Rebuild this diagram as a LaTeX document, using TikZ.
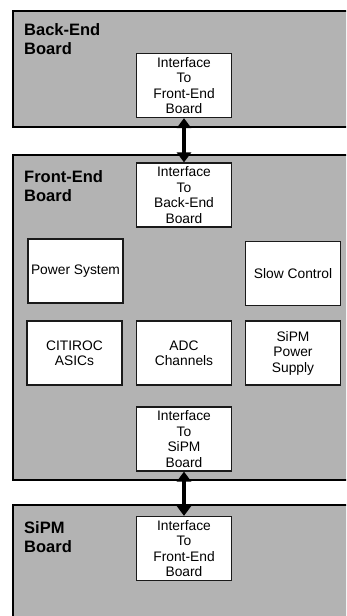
\documentclass[tikz,border=0pt]{standalone}
\usepackage{fontspec}
\setmainfont{Liberation Sans}
\usetikzlibrary{arrows.meta}
\definecolor{boardgrey}{HTML}{B3B3B3}
\definecolor{edgegrey}{HTML}{1A1A1A}
\tikzset{
  board/.style={draw=black, line width=2pt, fill=boardgrey, anchor=north west, inner sep=0pt},
  boardlabel/.style={anchor=base west, align=left, inner sep=0pt, font=\bfseries\fontsize{16.5}{19}\selectfont},
  unitbox/.style={draw=edgegrey, line width=1.2pt, fill=white, minimum width=95pt, minimum height=64pt, inner sep=0pt, align=center, font=\fontsize{13.8}{15.5}\selectfont},
  bigarrow/.style={line width=3.6pt, {Triangle[width=14pt,length=10pt]}-{Triangle[width=14pt,length=10pt]}}
}
\begin{document}
\begin{tikzpicture}[x=1pt,y=-1pt]
\useasboundingbox (0,0) rectangle (346,616);
\clip (0,0) rectangle (346,616);
% boards
\node[board, minimum width=345pt, minimum height=116.5pt] (bebrd) at (12,9.5) {};
\node[board, minimum width=345pt, minimum height=325pt] (febrd) at (12,154) {};
\node[board, minimum width=345pt, minimum height=130pt] (sibrd) at (12,504) {};
% labels (anchor = baseline of the last line)
\node[boardlabel] (belab) at (24,54) {Back-End\\Board};
\node[boardlabel] (felab) at (24,201.5) {Front-End\\Board};
\node[boardlabel] (silab) at (24,552) {SiPM\\Board};
% boxes
\node[unitbox] (beif) at (184,85.5) {Interface\\To\\Front-End\\Board};
\node[unitbox] (feif) at (184,195) {Interface\\To\\Back-End\\Board};
\node[unitbox] (pwr) at (75.5,271) {Power System};
\node[unitbox] (slow) at (293,273.5) {Slow Control};
\node[unitbox] (citi) at (74.5,353) {CITIROC\\ASICs};
\node[unitbox] (adc) at (184,353) {ADC\\Channels};
\node[unitbox] (sps) at (293,353) {SiPM\\Power\\Supply};
\node[unitbox] (fesi) at (184,439) {Interface\\To\\SiPM\\Board};
\node[unitbox] (sife) at (184,548.5) {Interface\\To\\Front-End\\Board};
% arrows
\draw[bigarrow] (beif.south) -- (feif.north);
\draw[bigarrow] (fesi.south) -- (sife.north);
\end{tikzpicture}
\end{document}
